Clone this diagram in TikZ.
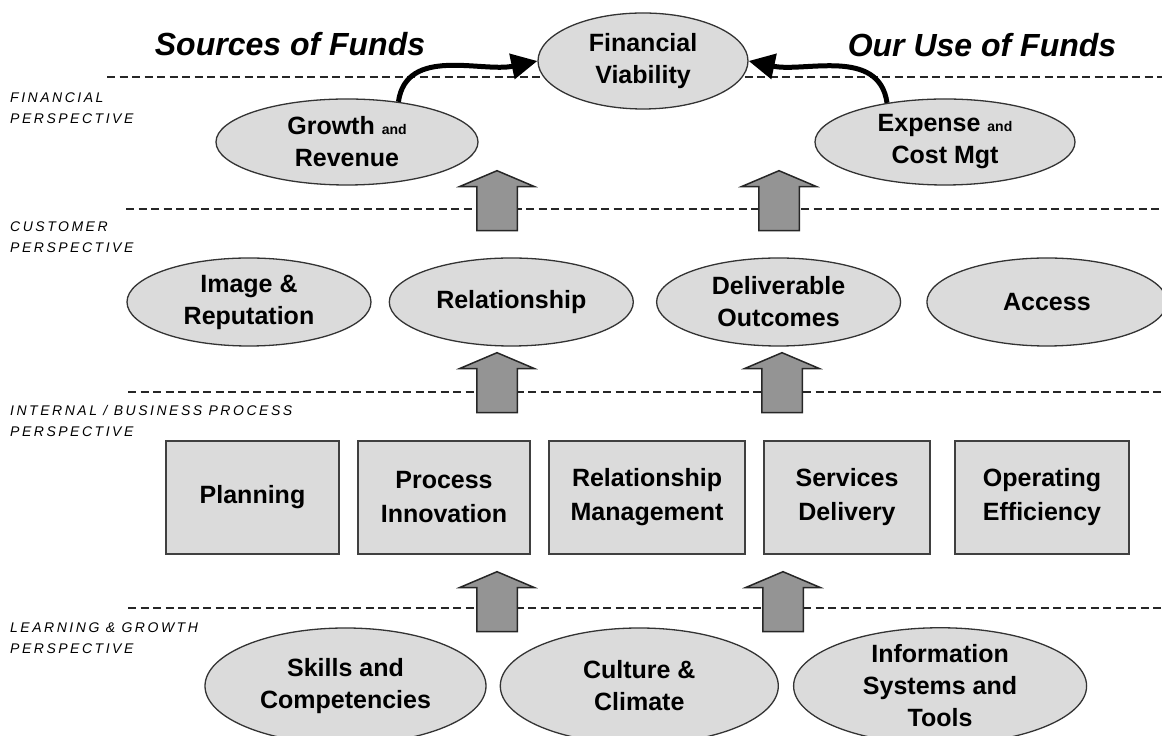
\documentclass[tikz,border=0pt]{standalone}
\usepackage{fontspec}
\setmainfont{Liberation Sans}
\usetikzlibrary{positioning, shapes.geometric, shapes.arrows, arrows.meta}

\tikzset{
    goal/.style={ellipse, draw=black!80, fill=black!14, line width=1.3pt, inner sep=0pt,
        align=center, font=\bfseries\fontsize{25}{32}\selectfont},
    task/.style={rectangle, draw=black!75, fill=black!14, line width=2pt, inner sep=0pt,
        minimum height=113pt, align=center, font=\bfseries\fontsize{25}{34}\selectfont},
    layer/.style={dash pattern=on 8pt off 4.5pt, line width=2.4pt, black!85},
    lift/.style={single arrow, shape border rotate=90, draw=black!85, fill=black!42,
        line width=1.5pt, inner sep=19.5pt, minimum height=60pt, minimum width=74pt,
        single arrow head extend=17pt, single arrow tip angle=134},
    feed/.style={-{Triangle[length=26pt,width=25pt]}, line width=5pt},
    band/.style={anchor=north west, inner sep=0pt, align=left,
        font=\itshape\fontsize{14}{21}\selectfont\addfontfeature{LetterSpace=18}},
    headline/.style={font=\bfseries\itshape\fontsize{32}{36}\selectfont}
}
\newcommand{\conj}[1]{{\fontsize{14}{14}\selectfont #1}}

\begin{document}
\begin{tikzpicture}[x=1pt, y=1pt, node distance=17pt]
    \useasboundingbox (0,0) rectangle (1162,736);
    \clip (0,0) rectangle (1162,736);

    \draw[layer] (107,659) -- (1162,659);
    \draw[layer] (126,527) -- (1162,527);
    \draw[layer] (128,344) -- (1162,344);
    \draw[layer] (128,128) -- (1162,128);

    \node[band] (finlab) at (10,643) {FINANCIAL\\PERSPECTIVE};
    \node[band] (cuslab) at (10,514) {CUSTOMER\\PERSPECTIVE};
    \node[band] (intlab) at (10,331) {INTERNAL / BUSINESS PROCESS\\PERSPECTIVE};
    \node[band] (lrnlab) at (10,113) {LEARNING \& GROWTH\\PERSPECTIVE};

    \node[headline] (src) at (290,692) {Sources of Funds};
    \node[headline] (use) at (982,691) {Our Use of Funds};

    \node[goal, minimum width=210pt, minimum height=96pt] (fin) at (643,675) {Financial\\Viability};
    \node[goal, minimum width=262pt, minimum height=86pt] (grow) at (347,594) {Growth \conj{and}\\Revenue};
    \node[goal, minimum width=260pt, minimum height=86pt] (exp) at (945,594) {Expense \conj{and}\\Cost Mgt};

    \node[goal, minimum width=244pt, minimum height=88pt] (img) at (249,434) {Image \&\\Reputation};
    \node[goal, minimum width=244pt, minimum height=88pt] (rel) [right=of img] {Relationship};
    \node[goal, minimum width=244pt, minimum height=88pt] (dlv) [right=22pt of rel] {Deliverable\\Outcomes};
    \node[goal, minimum width=240pt, minimum height=88pt] (acc) [right=25pt of dlv] {Access};

    \node[task, minimum width=173pt] (plan) at (252.5,238.5) {Planning};
    \node[task, minimum width=172pt] (inno) [right=of plan] {Process\\Innovation};
    \node[task, minimum width=196pt] (rmgt) [right=of inno] {Relationship\\Management};
    \node[task, minimum width=166pt] (serv) [right=of rmgt] {Services\\Delivery};
    \node[task, minimum width=174pt] (oper) [right=23pt of serv] {Operating\\Efficiency};

    \node[goal, minimum width=281pt, minimum height=116pt] (skl) at (345.5,50) {Skills and\\Competencies};
    \node[goal, minimum width=278pt, minimum height=116pt] (cul) [right=13pt of skl] {Culture \&\\Climate};
    \node[goal, minimum width=293pt, minimum height=116pt] (inf) [right=14pt of cul] {Information\\Systems and\\Tools};

    \node[lift] (upa) at (497,531) {};
    \node[lift] (upb) at (779,531) {};
    \node[lift] (upc) at (497,349) {};
    \node[lift] (upd) at (782,349) {};
    \node[lift] (upe) at (497,130) {};
    \node[lift] (upf) at (783,130) {};

    \path[feed]
    (grow.38) edge [out=82, in=192] (fin.west)
    (exp.146) edge [out=98, in=-12] (fin.east)
    ;
\end{tikzpicture}
\end{document}
